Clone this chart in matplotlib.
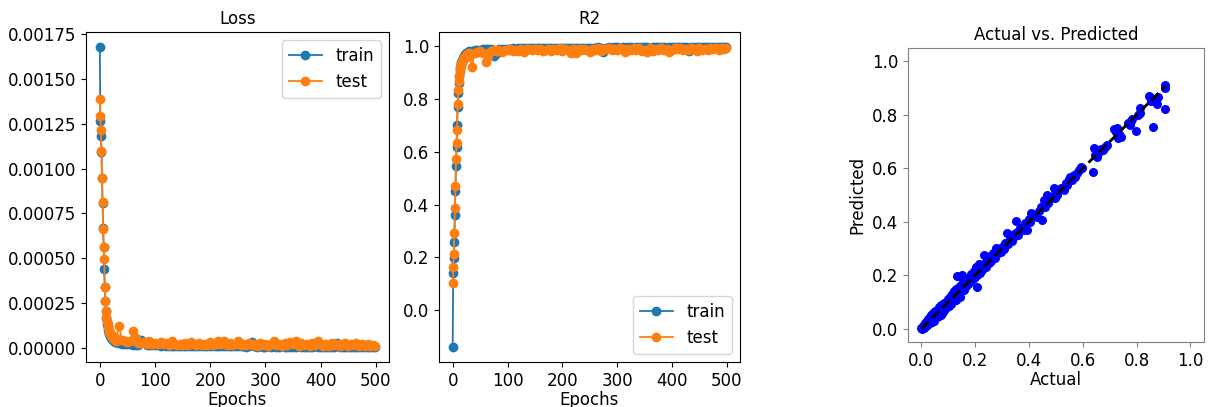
import matplotlib
matplotlib.use("Agg")
import matplotlib.pyplot as plt
import numpy as np

# epochs: every epoch at the start, then sampled every 5 epochs
epochs = list(range(30)) + list(range(30, 500, 5)) + [499]

# loss values in units of 1e-6
loss_train_e6 = [
    1680, 1265, 1184, 1094, 946, 810, 669, 562, 440, 337,
    262, 205, 165, 135, 115, 100, 88, 78, 70, 63,
    58, 53, 49, 46, 43, 40, 38, 36, 34, 32,
    30, 26, 23, 21, 20, 18, 17, 17, 16, 45, 30, 15, 14, 14,
    13, 13, 12, 14, 12, 11, 11, 12, 10, 10,
    10, 11, 9, 10, 9, 9, 10, 8, 9, 8,
    8, 12, 8, 8, 7, 9, 7, 8, 7, 10,
    7, 7, 8, 6, 7, 34, 9, 6, 7, 6,
    6, 7, 6, 8, 6, 5, 7, 5, 6, 5,
    6, 5, 7, 5, 5, 6, 5, 5, 9, 5,
    5, 6, 5, 4, 5, 6, 28, 6, 5, 4,
    5, 4, 5, 4, 5, 4, 4, 5, 4, 4, 4,
]
loss_test_e6 = [
    1387, 1293, 1218, 1100, 946, 813, 661, 562, 493, 337,
    259, 206, 172, 150, 130, 118, 100, 95, 80, 78,
    70, 75, 60, 62, 52, 58, 50, 45, 50, 40,
    55, 120, 42, 35, 30, 40, 94, 55, 28, 25, 30, 22, 35, 20,
    25, 18, 30, 20, 28, 15, 35, 18, 16, 22,
    14, 25, 15, 30, 20, 14, 28, 15, 22, 13,
    30, 14, 20, 40, 18, 38, 15, 25, 14, 22,
    35, 15, 20, 13, 28, 14, 18, 12, 25, 14,
    20, 12, 18, 35, 14, 20, 12, 25, 13, 30,
    22, 35, 12, 28, 15, 20, 12, 25, 14, 36,
    20, 12, 18, 11, 25, 14, 20, 12, 18, 28,
    12, 20, 14, 25, 12, 18, 11, 22, 12, 14, 10,
]
r2_train = [
    -0.139, 0.143, 0.199, 0.259, 0.361, 0.452, 0.546, 0.619, 0.700, 0.771,
    0.822, 0.861, 0.888, 0.908, 0.922, 0.932, 0.940, 0.947, 0.953, 0.957,
    0.961, 0.964, 0.967, 0.969, 0.971, 0.973, 0.974, 0.976, 0.977, 0.978,
    0.980, 0.982, 0.984, 0.986, 0.986, 0.988, 0.988, 0.988, 0.989, 0.962, 0.975, 0.990, 0.990, 0.990,
    0.991, 0.991, 0.992, 0.990, 0.992, 0.993, 0.993, 0.992, 0.993, 0.993,
    0.993, 0.993, 0.994, 0.993, 0.994, 0.994, 0.993, 0.995, 0.994, 0.995,
    0.995, 0.992, 0.995, 0.995, 0.995, 0.994, 0.995, 0.995, 0.995, 0.993,
    0.995, 0.995, 0.995, 0.996, 0.995, 0.977, 0.994, 0.996, 0.995, 0.996,
    0.996, 0.995, 0.996, 0.995, 0.996, 0.997, 0.995, 0.997, 0.996, 0.997,
    0.996, 0.997, 0.995, 0.997, 0.997, 0.996, 0.997, 0.997, 0.994, 0.997,
    0.997, 0.996, 0.997, 0.997, 0.997, 0.996, 0.981, 0.996, 0.997, 0.997,
    0.997, 0.997, 0.997, 0.997, 0.997, 0.997, 0.997, 0.997, 0.997, 0.997, 0.997,
]
r2_test = [
    0.104, 0.165, 0.213, 0.291, 0.386, 0.472, 0.573, 0.635, 0.684, 0.782,
    0.833, 0.867, 0.889, 0.903, 0.916, 0.924, 0.935, 0.939, 0.948, 0.950,
    0.955, 0.952, 0.961, 0.960, 0.966, 0.963, 0.968, 0.971, 0.968, 0.974,
    0.964, 0.922, 0.973, 0.977, 0.981, 0.974, 0.939, 0.964, 0.982, 0.984, 0.981, 0.986, 0.977, 0.987,
    0.984, 0.988, 0.981, 0.987, 0.982, 0.990, 0.977, 0.988, 0.990, 0.986,
    0.991, 0.984, 0.990, 0.981, 0.987, 0.991, 0.982, 0.990, 0.986, 0.992,
    0.981, 0.991, 0.987, 0.974, 0.988, 0.975, 0.990, 0.984, 0.991, 0.986,
    0.977, 0.990, 0.987, 0.992, 0.982, 0.991, 0.988, 0.992, 0.984, 0.991,
    0.987, 0.992, 0.988, 0.977, 0.991, 0.987, 0.992, 0.984, 0.992, 0.981,
    0.986, 0.977, 0.992, 0.982, 0.990, 0.987, 0.992, 0.984, 0.991, 0.977,
    0.987, 0.992, 0.988, 0.993, 0.984, 0.991, 0.987, 0.992, 0.988, 0.982,
    0.992, 0.987, 0.991, 0.984, 0.992, 0.988, 0.993, 0.986, 0.992, 0.991, 0.994,
]

# actual vs predicted pairs
actual = [
    0.000, 0.003, 0.005, 0.006, 0.008, 0.010, 0.012, 0.013, 0.015, 0.016,
    0.018, 0.020, 0.021, 0.023, 0.025, 0.026, 0.028, 0.030, 0.031, 0.033,
    0.035, 0.036, 0.038, 0.040, 0.042, 0.044, 0.045, 0.047, 0.050, 0.052,
    0.053, 0.055, 0.058, 0.060, 0.062, 0.064, 0.066, 0.068, 0.070, 0.072,
    0.074, 0.076, 0.078, 0.080, 0.082, 0.085, 0.087, 0.089, 0.091, 0.093,
    0.095, 0.097, 0.099, 0.101, 0.103, 0.105, 0.107, 0.109, 0.111, 0.113,
    0.115, 0.117, 0.119, 0.121, 0.123, 0.125, 0.127, 0.129, 0.131, 0.133,
    0.134, 0.136, 0.138, 0.140, 0.142, 0.144, 0.146, 0.148, 0.150, 0.152,
    0.153, 0.156, 0.160, 0.163, 0.167, 0.170, 0.174, 0.178, 0.182, 0.186,
    0.190, 0.194, 0.198, 0.202, 0.205, 0.208, 0.210, 0.214, 0.218, 0.222,
    0.226, 0.233, 0.236, 0.240, 0.245, 0.250, 0.255, 0.260, 0.266, 0.272,
    0.278, 0.282, 0.288, 0.294, 0.300, 0.306, 0.312, 0.319, 0.322, 0.328,
    0.333, 0.338, 0.343, 0.350, 0.348, 0.355, 0.360, 0.366, 0.372, 0.378,
    0.385, 0.394, 0.398, 0.406, 0.404, 0.412, 0.420, 0.428, 0.436, 0.447,
    0.445, 0.452, 0.455, 0.460, 0.468, 0.472, 0.480, 0.488, 0.493, 0.498,
    0.505, 0.512, 0.520, 0.530, 0.536, 0.542, 0.548, 0.554, 0.560, 0.566,
    0.572, 0.579, 0.585, 0.592, 0.598, 0.637, 0.641, 0.645, 0.653, 0.660,
    0.668, 0.675, 0.684, 0.690, 0.715, 0.722, 0.728, 0.732, 0.740, 0.736,
    0.768, 0.777, 0.783, 0.778, 0.796, 0.805, 0.811, 0.814, 0.845, 0.849,
    0.852, 0.858, 0.861, 0.870, 0.876, 0.880, 0.905, 0.907, 0.907,
]
predicted = [
    0.002, -0.003, 0.010, 0.001, 0.015, 0.004, 0.020, 0.008, 0.012, 0.025,
    0.010, 0.030, 0.015, 0.022, 0.035, 0.018, 0.028, 0.045, 0.020, 0.038,
    0.030, 0.052, 0.025, 0.042, 0.035, 0.060, 0.030, 0.050, 0.040, 0.065,
    0.045, 0.055, 0.042, 0.070, 0.055, 0.048, 0.082, 0.060, 0.068, 0.052,
    0.090, 0.070, 0.065, 0.080, 0.062, 0.095, 0.078, 0.072, 0.100, 0.085,
    0.080, 0.110, 0.090, 0.085, 0.105, 0.095, 0.120, 0.092, 0.110, 0.130,
    0.100, 0.118, 0.105, 0.140, 0.112, 0.128, 0.108, 0.150, 0.120, 0.135,
    0.196, 0.125, 0.155, 0.130, 0.145, 0.120, 0.165, 0.140, 0.190, 0.202,
    0.148, 0.160, 0.145, 0.172, 0.160, 0.185, 0.168, 0.190, 0.175, 0.205,
    0.185, 0.215, 0.195, 0.230, 0.200, 0.157, 0.225, 0.240, 0.210, 0.235,
    0.220, 0.277, 0.245, 0.232, 0.260, 0.245, 0.270, 0.252, 0.282, 0.265,
    0.302, 0.280, 0.290, 0.285, 0.305, 0.298, 0.320, 0.358, 0.315, 0.335,
    0.340, 0.327, 0.355, 0.401, 0.345, 0.360, 0.352, 0.375, 0.380, 0.370,
    0.395, 0.370, 0.410, 0.432, 0.400, 0.420, 0.425, 0.418, 0.440, 0.405,
    0.455, 0.460, 0.482, 0.455, 0.500, 0.470, 0.490, 0.495, 0.525, 0.488,
    0.500, 0.518, 0.525, 0.520, 0.545, 0.538, 0.560, 0.569, 0.555, 0.575,
    0.568, 0.581, 0.595, 0.606, 0.600, 0.585, 0.675, 0.650, 0.643, 0.660,
    0.672, 0.670, 0.681, 0.688, 0.748, 0.735, 0.749, 0.715, 0.718, 0.730,
    0.770, 0.761, 0.786, 0.778, 0.739, 0.800, 0.805, 0.824, 0.872, 0.865,
    0.850, 0.855, 0.755, 0.848, 0.842, 0.868, 0.902, 0.911, 0.821,
]

plt.rcParams['font.size'] = 12

loss_train = np.array(loss_train_e6) * 1e-6
loss_test = np.array(loss_test_e6) * 1e-6

fig = plt.figure(figsize=(12.1, 4.07), dpi=100)

# loss curve
ax1 = fig.add_axes([0.0711, 0.1106, 0.2504, 0.8108])
ax1.plot(epochs, loss_train, 'o-', ms=6, lw=1.3, label='train')
ax1.plot(epochs, loss_test, 'o-', ms=6, lw=1.3, label='test')
ax1.set_title('Loss', fontsize=12)
ax1.set_xlabel('Epochs', labelpad=1)
ax1.legend(loc='upper right')

# R2 curve
ax2 = fig.add_axes([0.3628, 0.1106, 0.2488, 0.8108])
ax2.plot(epochs, r2_train, 'o-', ms=6, lw=1.3, label='train')
ax2.plot(epochs, r2_test, 'o-', ms=6, lw=1.3, label='test')
ax2.set_title('R2', fontsize=12)
ax2.set_xlabel('Epochs', labelpad=1)
ax2.legend(loc='lower right')

# actual vs predicted
ax3 = fig.add_axes([0.7504, 0.1597, 0.2446, 0.7224])
ax3.scatter(actual, predicted, s=30, color='blue')
lo, hi = min(actual), max(actual)
ax3.plot([lo, hi], [lo, hi], 'k--', lw=2)
ax3.set_xlim(-0.05, 1.05)
ax3.set_ylim(-0.05, 1.05)
ax3.set_xticks(np.arange(0, 1.01, 0.2))
ax3.set_yticks(np.arange(0, 1.01, 0.2))
ax3.set_title('Actual vs. Predicted', fontsize=12)
ax3.set_xlabel('Actual', labelpad=1)
ax3.set_ylabel('Predicted')
for sp in ax3.spines.values():
    sp.set_color('0.5')
ax3.tick_params(color='0.5')

fig.savefig('out.png', dpi=100)
